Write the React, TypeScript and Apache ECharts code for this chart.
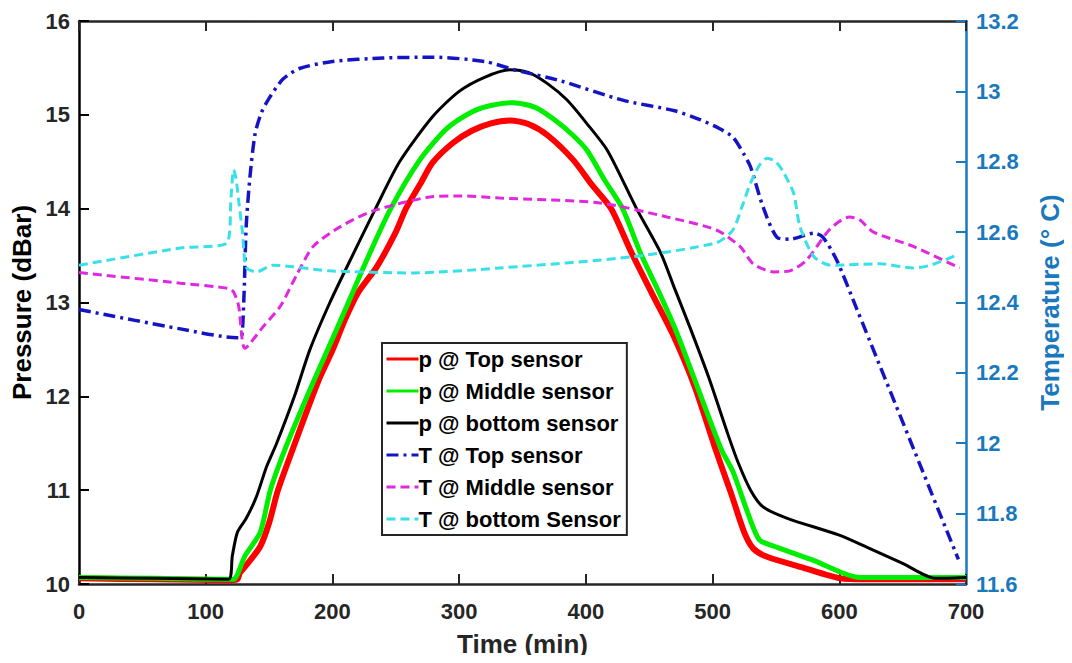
import React, { useEffect, useRef } from "react";
import * as echarts from "echarts";

const pTop: [number, number][] = [
  [0, 10.06], [60, 10.05], [120, 10.04], [125, 10.05], [127, 10.12], [132, 10.2], [143, 10.4], [150, 10.65],
  [157, 11.0], [169, 11.45], [180, 11.85], [190, 12.2], [200, 12.49], [210, 12.82], [220, 13.1], [235, 13.38],
  [250, 13.75], [258, 14.0], [270, 14.28], [279, 14.49], [295, 14.7], [310, 14.83], [325, 14.91], [340, 14.94],
  [355, 14.9], [370, 14.78], [390, 14.52], [405, 14.25], [420, 14.0], [435, 13.56], [452, 13.1], [469, 12.65],
  [486, 12.1], [502, 11.45], [515, 10.95], [525, 10.55], [532, 10.38], [543, 10.29], [570, 10.18], [601, 10.06],
  [620, 10.05], [700, 10.05],
];

const pMid: [number, number][] = [
  [0, 10.07], [60, 10.06], [122, 10.05], [125, 10.1], [131, 10.3], [143, 10.55], [151, 11.0], [163, 11.45],
  [180, 12.0], [196, 12.49], [210, 12.92], [227, 13.45], [246, 14.0], [269, 14.52], [290, 14.85], [310, 15.03],
  [325, 15.1], [343, 15.13], [360, 15.08], [375, 14.95], [390, 14.78], [401, 14.62], [415, 14.3], [429, 14.0],
  [443, 13.53], [458, 13.1], [472, 12.67], [488, 12.1], [507, 11.43], [516, 11.2], [528, 10.75], [537, 10.47],
  [551, 10.39], [580, 10.25], [616, 10.07], [700, 10.07],
];

const pBot: [number, number][] = [
  [0, 10.07], [60, 10.06], [118, 10.05], [121, 10.3], [125, 10.55], [132, 10.7], [140, 10.93], [148, 11.25],
  [156, 11.5], [170, 12.0], [182, 12.49], [198, 13.0], [214, 13.45], [234, 14.0], [253, 14.5], [279, 14.98],
  [300, 15.25], [320, 15.4], [340, 15.48], [355, 15.45], [370, 15.33], [385, 15.16], [400, 14.92], [417, 14.62],
  [440, 14.0], [459, 13.53], [470, 13.15], [482, 12.74], [497, 12.2], [512, 11.6], [520, 11.3], [530, 11.0],
  [540, 10.82], [559, 10.7], [600, 10.52], [622, 10.39], [650, 10.22], [676, 10.06], [700, 10.07],
];

const tTop: [number, number][] = [
  [0, 12.38], [80, 12.325], [125, 12.3], [128, 12.3], [130, 12.4], [132, 12.62], [135, 12.76], [139, 12.88],
  [144, 12.94], [150, 12.98], [161, 13.035], [174, 13.065], [200, 13.085], [240, 13.095], [280, 13.097],
  [320, 13.085], [345, 13.06], [380, 13.03], [429, 12.975], [470, 12.945], [490, 12.92], [505, 12.895],
  [516, 12.87], [525, 12.82], [530, 12.785], [540, 12.67], [551, 12.585], [561, 12.58], [580, 12.597],
  [587, 12.586], [598, 12.52], [614, 12.38], [694, 11.67],
];

const tMid: [number, number][] = [
  [0, 12.485], [80, 12.455], [118, 12.44], [122, 12.43], [126, 12.39], [131, 12.27], [145, 12.33], [159, 12.39],
  [172, 12.48], [185, 12.56], [206, 12.615], [232, 12.66], [277, 12.7], [300, 12.703], [332, 12.697],
  [411, 12.683], [464, 12.643], [503, 12.606], [522, 12.558], [532, 12.51], [548, 12.487], [561, 12.49],
  [574, 12.52], [593, 12.61], [608, 12.643], [616, 12.635], [627, 12.6], [658, 12.56], [695, 12.498],
];

const tBot: [number, number][] = [
  [0, 12.506], [80, 12.555], [117, 12.57], [120, 12.7], [122, 12.777], [124, 12.75], [126, 12.69], [129, 12.6],
  [132, 12.5], [140, 12.487], [153, 12.506], [198, 12.49], [264, 12.484], [332, 12.498], [437, 12.53],
  [503, 12.57], [516, 12.606], [523, 12.67], [530, 12.74], [537, 12.79], [543, 12.81], [550, 12.8], [556, 12.77],
  [564, 12.71], [569, 12.615], [580, 12.53], [593, 12.506], [632, 12.51], [658, 12.498], [672, 12.506],
  [693, 12.535],
];

const legendNames = [
  "p @ Top sensor",
  "p @ Middle sensor",
  "p @ bottom sensor",
  "T @ Top sensor",
  "T @ Middle sensor",
  "T @ bottom Sensor",
];

const FONT = "Arial, 'Liberation Sans', Helvetica, sans-serif";
const AXIS_DARK = "#262626";
const AXIS_BLUE = "#1a78bd";

export default function App() {
  const ref = useRef<HTMLDivElement>(null);
  useEffect(() => {
    if (!ref.current) return;
    const chart = echarts.init(ref.current, undefined, { renderer: "svg" });
    const lineSeries = (name: string, data: [number, number][], color: string, width: number, yIdx: number, type: any, z: number) => ({
      name,
      type: "line",
      data,
      yAxisIndex: yIdx,
      symbol: "none",
      smooth: 0.25,
      z,
      lineStyle: { color, width, type },
      itemStyle: { color },
    });
    chart.setOption({
      animation: false,
      backgroundColor: "#ffffff",
      grid: { left: 79, right: 106, top: 21, bottom: 79, outerBoundsMode: "none", containLabel: false },
      legend: {
        orient: "vertical",
        left: 382,
        top: 343,
        padding: [5, 6, 5, 3],
        itemGap: 10,
        itemWidth: 32,
        itemHeight: 21,
        backgroundColor: "#ffffff",
        borderColor: "#262626",
        borderWidth: 2,
        borderRadius: 0,
        itemStyle: { opacity: 0 },
        lineStyle: { width: 3 },
        textStyle: { fontFamily: FONT, fontSize: 22, fontWeight: "bold", color: "#000", padding: [0, 0, 0, -5] },
        data: legendNames,
      },
      xAxis: [
        {
          type: "value",
          min: 0,
          max: 700,
          interval: 100,
          name: "Time (min)",
          nameLocation: "middle",
          nameGap: 47,
          nameTextStyle: { fontFamily: FONT, fontSize: 26, fontWeight: "bold", color: AXIS_DARK },
          axisLine: { onZero: false, lineStyle: { color: AXIS_DARK, width: 2.5 } },
          axisTick: { inside: true, length: 10, lineStyle: { color: AXIS_DARK, width: 2 } },
          axisLabel: { margin: 16, fontFamily: FONT, fontSize: 22, fontWeight: "bold", color: AXIS_DARK },
          splitLine: { show: false },
        },
        {
          type: "value",
          position: "top",
          min: 0,
          max: 700,
          interval: 100,
          axisLine: { show: true, onZero: false, lineStyle: { color: AXIS_DARK, width: 2.5 } },
          axisTick: { inside: true, length: 10, lineStyle: { color: AXIS_DARK, width: 2 } },
          axisLabel: { show: false },
          splitLine: { show: false },
        },
      ],
      yAxis: [
        {
          type: "value",
          min: 10,
          max: 16,
          interval: 1,
          position: "left",
          name: "Pressure (dBar)",
          nameLocation: "middle",
          nameGap: 42,
          nameRotate: 90,
          nameTextStyle: { fontFamily: FONT, fontSize: 26, fontWeight: "bold", color: "#000" },
          axisLine: { show: true, onZero: false, lineStyle: { color: "#000", width: 2.5 } },
          axisTick: { show: true, inside: true, length: 10, lineStyle: { color: "#000", width: 2 } },
          axisLabel: { margin: 9, fontFamily: FONT, fontSize: 22, fontWeight: "bold", color: AXIS_DARK },
          splitLine: { show: false },
        },
        {
          type: "value",
          min: 11.6,
          max: 13.2,
          interval: 0.2,
          position: "right",
          name: "Temperature (° C)",
          nameLocation: "middle",
          nameGap: 71,
          nameRotate: 90,
          nameTextStyle: { fontFamily: FONT, fontSize: 26, fontWeight: "bold", color: AXIS_BLUE },
          axisLine: { show: true, onZero: false, lineStyle: { color: AXIS_BLUE, width: 2.5 } },
          axisTick: { show: true, inside: true, length: 10, lineStyle: { color: AXIS_BLUE, width: 2 } },
          axisLabel: {
            margin: 10,
            fontFamily: FONT,
            fontSize: 22,
            fontWeight: "bold",
            color: AXIS_BLUE,
            formatter: (v: number) => String(Math.round(v * 10) / 10),
          },
          splitLine: { show: false },
        },
      ],
      series: [
        lineSeries(legendNames[0], pTop, "#ff0000", 6, 0, "solid", 2),
        lineSeries(legendNames[1], pMid, "#00ee00", 5, 0, "solid", 3),
        lineSeries(legendNames[2], pBot, "#000000", 3, 0, "solid", 4),
        lineSeries(legendNames[3], tTop, "#1414c4", 3.5, 1, [12, 5, 3, 5], 5),
        lineSeries(legendNames[4], tMid, "#e028e0", 3, 1, [9, 5], 5),
        lineSeries(legendNames[5], tBot, "#38e0e8", 3, 1, [9, 5], 5),
      ],
    });
    return () => chart.dispose();
  }, []);
  return <div ref={ref} style={{ width: 1072, height: 663, margin: -8 }} />;
}
